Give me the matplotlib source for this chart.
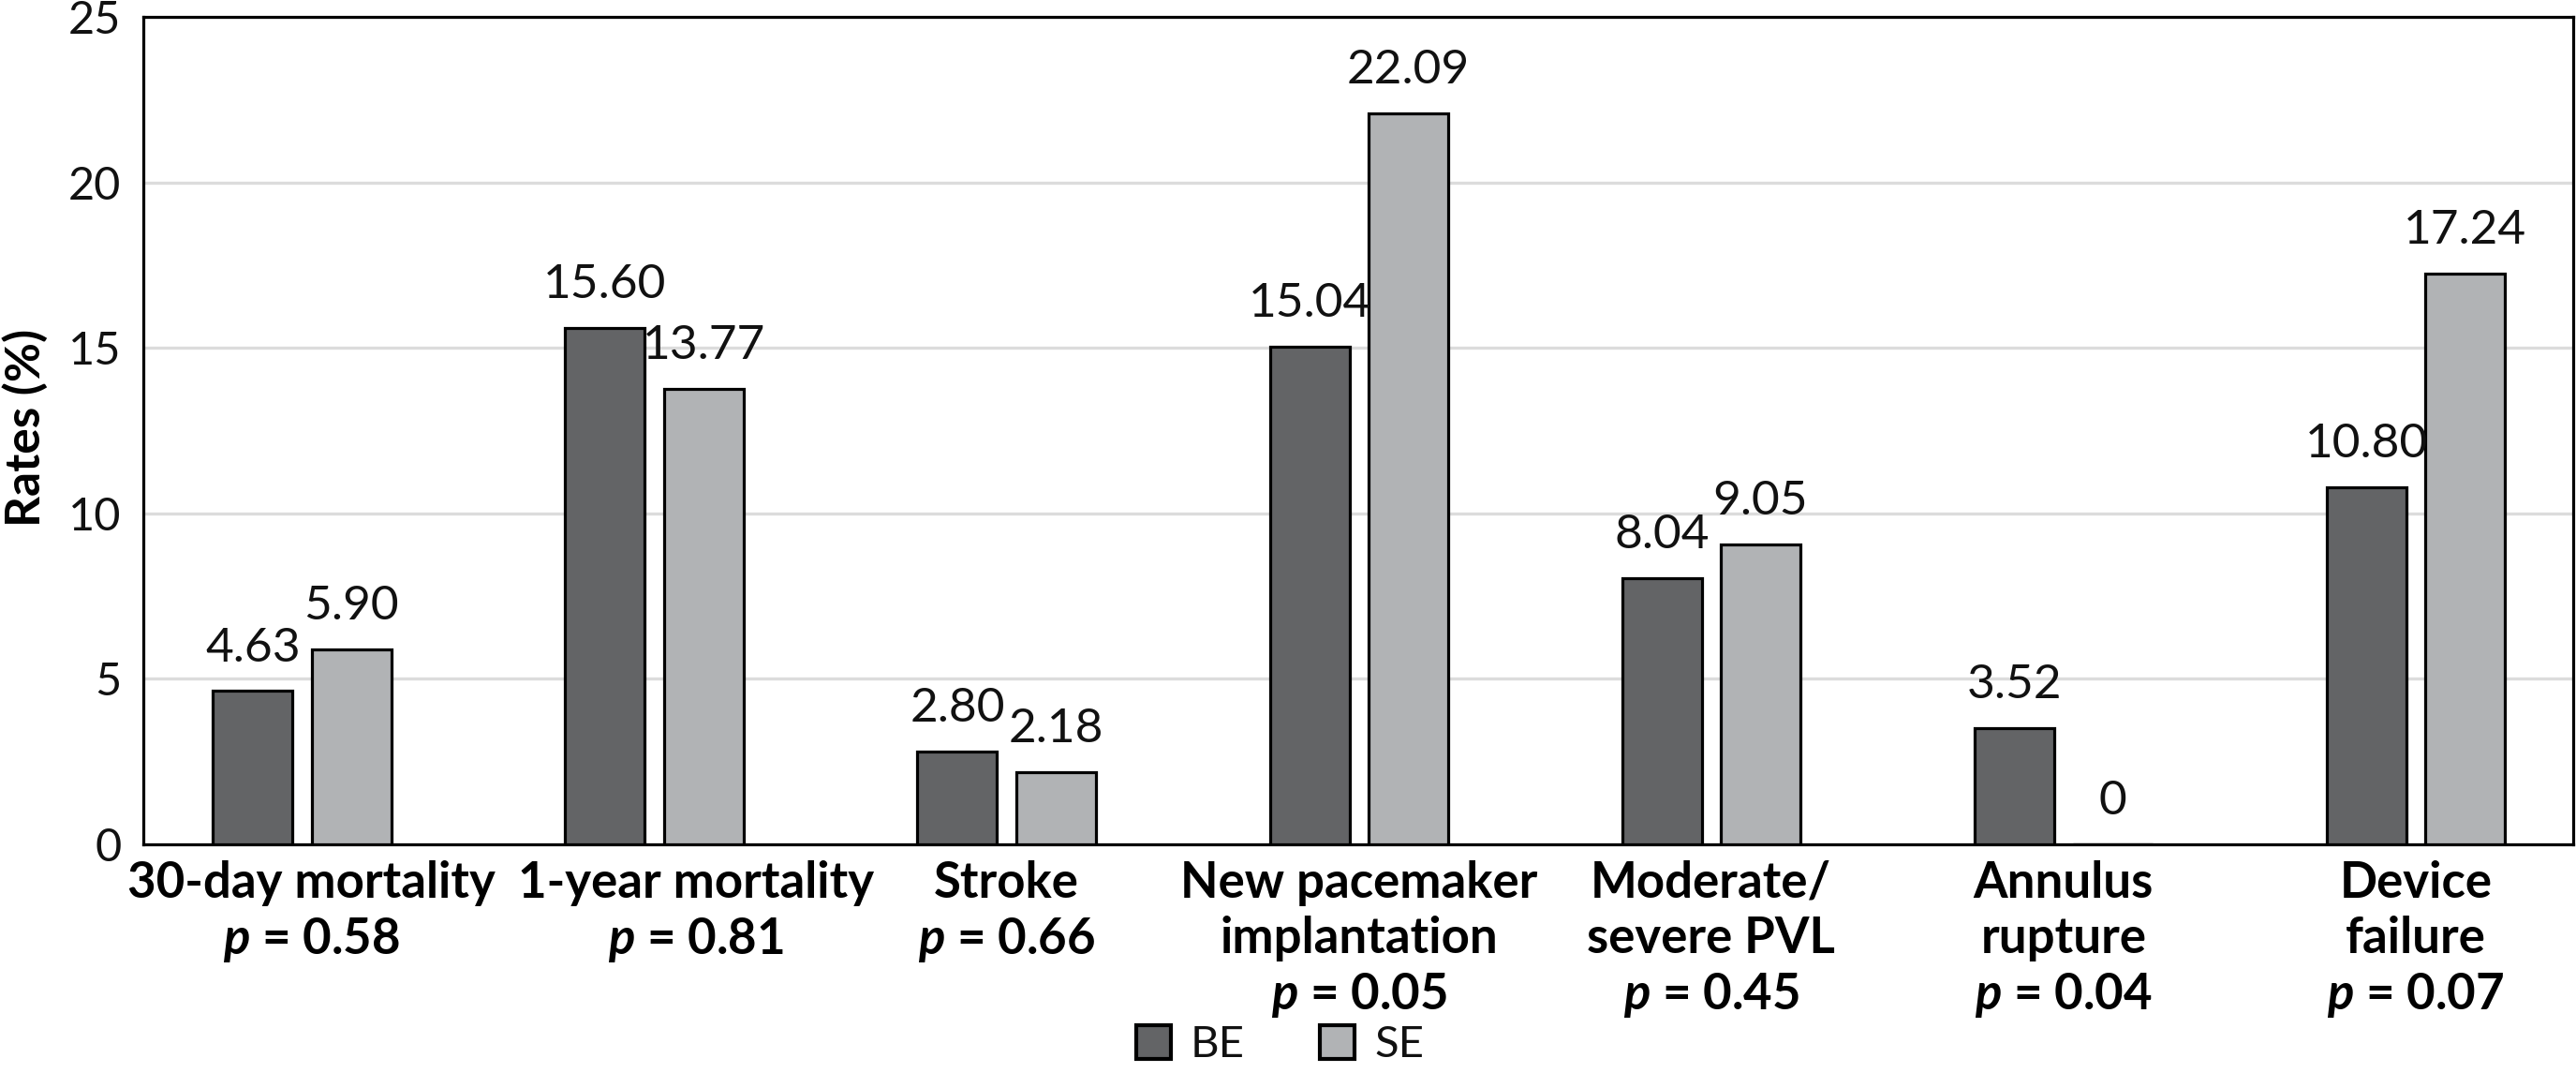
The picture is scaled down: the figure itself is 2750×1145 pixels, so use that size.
import numpy as np
import matplotlib
matplotlib.use('Agg')
import matplotlib.pyplot as plt
from matplotlib.patches import Patch

categories = ['30-day mortality', '1-year mortality', 'Stroke', 'New pacemaker\nimplantation',
              'Moderate/\nsevere PVL', 'Annulus\nrupture', 'Device\nfailure']
p_values = ['0.58', '0.81', '0.66', '0.05', '0.45', '0.04', '0.07']
be_rates = [4.63, 15.60, 2.80, 15.04, 8.04, 3.52, 10.80]
se_rates = [5.90, 13.77, 2.18, 22.09, 9.05, 0, 17.24]
series_names = ['BE', 'SE']
y_ticks = [0, 5, 10, 15, 20, 25]

plt.rcParams['font.family'] = ['Lato', 'DejaVu Sans']
plt.rcParams['mathtext.fontset'] = 'custom'
plt.rcParams['mathtext.it'] = 'Lato:italic:bold'
plt.rcParams['mathtext.rm'] = 'Lato:bold'

be_color = '#636466'
se_color = '#b1b3b5'
lw = 2.3

fig = plt.figure(figsize=(27.5, 11.45), dpi=100)
ax = fig.add_axes([0.0556, 0.2131, 0.9433, 0.7712])

x = np.arange(len(categories))
w = 0.226
off = 0.14
b1 = ax.bar(x - off, be_rates, w, color=be_color, edgecolor='black', linewidth=lw, zorder=3)
b2 = ax.bar(x + off, se_rates, w, color=se_color, edgecolor='black', linewidth=lw, zorder=3)

for bars, vals in [(b1, be_rates), (b2, se_rates)]:
    for b, v in zip(bars, vals):
        txt = '0' if v == 0 else '%.2f' % v
        ax.annotate(txt, (b.get_x() + b.get_width() / 2, v), xytext=(0, 23),
                    textcoords='offset points', ha='center', va='baseline',
                    fontsize=37, color='#111111')

ax.set_xlim(-0.451, 6.447)
ax.set_ylim(0, 25)
ax.set_yticks(y_ticks)
ax.set_yticklabels([str(t) for t in y_ticks], fontsize=35, color='#111111')
ax.set_xticks(x)
ax.set_xticklabels([])

# category labels drawn as text; the two long ones on the left are nudged apart
nudge = [7, 32, 0, 0, 0, 0, 0]
for xi, c, p, dx in zip(x, categories, p_values, nudge):
    ax.annotate(c + '\n$p$ = ' + p, (xi, 0), xycoords=ax.get_xaxis_transform(),
                xytext=(dx, -12), textcoords='offset points', ha='center', va='top',
                multialignment='center', fontsize=38, fontweight='bold', linespacing=1.25)

ax.tick_params(axis='x', length=0)
ax.tick_params(axis='y', length=0, pad=17)
ax.yaxis.grid(True, color='#dcdcdc', linewidth=2.4, zorder=0)
ax.set_axisbelow(True)
for s in ax.spines.values():
    s.set_linewidth(lw)
    s.set_color('black')

ax.set_ylabel('Rates (%)', fontsize=37, fontweight='bold')
ax.yaxis.set_label_coords(-0.039, 0.504)

handles = [Patch(facecolor=be_color, edgecolor='black', linewidth=3),
           Patch(facecolor=se_color, edgecolor='black', linewidth=3)]
leg = fig.legend(handles, series_names, loc='lower center', bbox_to_anchor=(0.497, -0.013),
                 ncol=2, frameon=False, fontsize=34, handlelength=0.78, handleheight=0.78,
                 handletextpad=0.45, columnspacing=1.7, borderpad=0)
for t in leg.get_texts():
    t.set_color('#111111')

fig.savefig('out.png', dpi=100)
